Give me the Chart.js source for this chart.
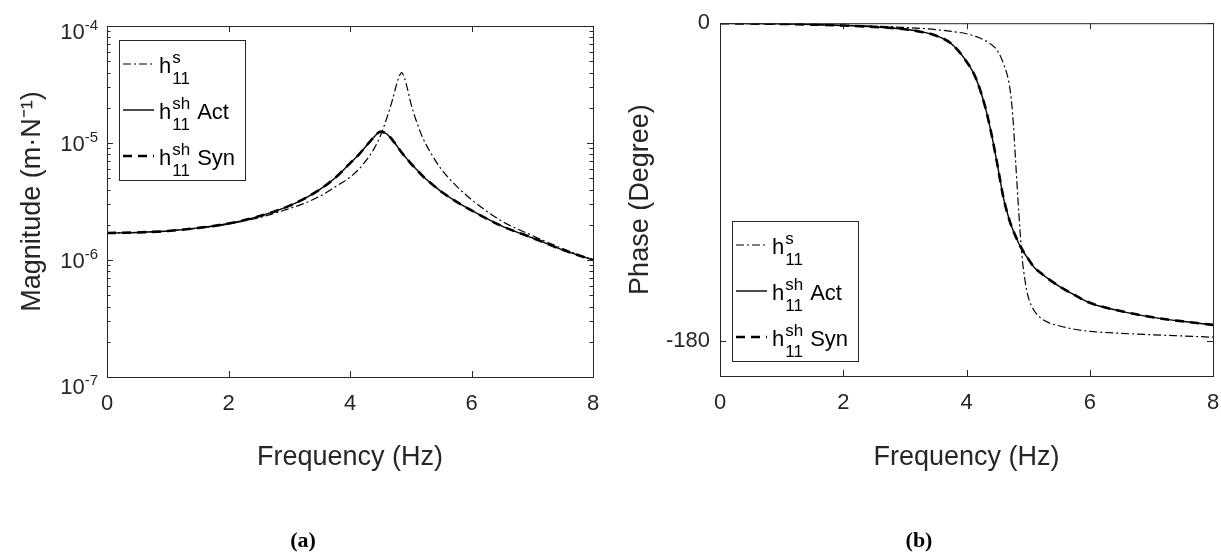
<!DOCTYPE html>
<html>
<head>
<meta charset="utf-8">
<script src="https://cdn.jsdelivr.net/npm/chart.js@4.4.1/dist/chart.umd.min.js"></script>
<style>
  body { margin: 0; background: #fff; width: 1221px; height: 555px; overflow: hidden; position: relative; }
  .box { position: absolute; top: 0; height: 555px; }
  #magBox { left: 0; width: 610px; }
  #phaseBox { left: 610px; width: 611px; }
  .cap { position: absolute; top: 527px; font: bold 22px "Liberation Serif", "Times New Roman", serif; color: #000; transform: translateX(-50%); }
</style>
</head>
<body>
<div class="box" id="magBox"><canvas id="magCanvas"></canvas></div>
<div class="box" id="phaseBox"><canvas id="phaseCanvas"></canvas></div>
<div class="cap" style="left:303px">(a)</div>
<div class="cap" style="left:919px">(b)</div>

<script>
// data
const freq = [0, 0.5, 1, 1.5, 2, 2.5, 3, 3.25, 3.5, 3.75, 4, 4.15, 4.3, 4.4, 4.5, 4.6, 4.7,
    4.75, 4.8, 4.85, 4.9, 4.95, 5.0, 5.1, 5.2, 5.35, 5.5, 5.75, 6, 6.5, 7, 7.5, 8];

const magS = [1.70e-6, 1.72e-6, 1.77e-6, 1.87e-6, 2.03e-6, 2.30e-6, 2.75e-6, 3.05e-6, 3.5e-6,
    4.2e-6, 5.1e-6, 6.0e-6, 7.5e-6, 9.0e-6, 1.15e-5, 1.6e-5, 2.35e-5, 2.95e-5, 3.6e-5, 4.0e-5,
    3.55e-5, 2.85e-5, 2.2e-5, 1.5e-5, 1.1e-5, 7.9e-6, 6.0e-6, 4.3e-6, 3.28e-6, 2.15e-6,
    1.62e-6, 1.25e-6, 1.0e-6];
const magAct = [1.70e-6, 1.72e-6, 1.77e-6, 1.88e-6, 2.05e-6, 2.36e-6, 2.9e-6, 3.35e-6, 4.0e-6,
    5.0e-6, 6.7e-6, 8.0e-6, 9.9e-6, 1.13e-5, 1.25e-5, 1.2e-5, 1.06e-5, 9.8e-6, 9.0e-6, 8.3e-6,
    7.7e-6, 7.2e-6, 6.7e-6, 5.9e-6, 5.2e-6, 4.45e-6, 3.85e-6, 3.15e-6, 2.65e-6, 1.95e-6,
    1.55e-6, 1.22e-6, 1.0e-6];
const magSyn = [1.70e-6, 1.72e-6, 1.77e-6, 1.88e-6, 2.05e-6, 2.36e-6, 2.9e-6, 3.35e-6, 4.0e-6,
    5.0e-6, 6.7e-6, 8.0e-6, 9.9e-6, 1.13e-5, 1.25e-5, 1.2e-5, 1.06e-5, 9.8e-6, 9.0e-6, 8.3e-6,
    7.7e-6, 7.2e-6, 6.7e-6, 5.9e-6, 5.2e-6, 4.45e-6, 3.85e-6, 3.15e-6, 2.65e-6, 1.95e-6,
    1.55e-6, 1.22e-6, 1.0e-6];

const phaseS = [0, -0.3, -0.5, -0.8, -1.2, -1.7, -2.4, -2.9, -3.6, -4.6, -6.0, -7.5, -9.8, -12,
    -15.5, -23, -36, -52, -80, -108, -132, -146, -155, -163, -167, -170, -171.5, -173.5,
    -174.7, -175.8, -176.6, -177.3, -178];
const phaseAct = [0, -0.2, -0.4, -0.8, -1.3, -2.1, -3.4, -4.8, -7.0, -11.5, -21.7, -31, -47, -62,
    -80, -99, -112, -117, -121, -125, -128, -131, -133.5, -138.5, -141.5, -145.5, -149, -154,
    -158.5, -163.2, -166.6, -169, -171];
const phaseSyn = [0, -0.2, -0.4, -0.8, -1.3, -2.1, -3.4, -4.8, -7.0, -11.5, -21.7, -31, -47, -62,
    -80, -99, -112, -117, -121, -125, -128, -131, -133.5, -138.5, -141.5, -145.5, -149, -154,
    -158.5, -163.2, -166.6, -169, -171];

const freqTicks = [0, 2, 4, 6, 8];
const magExponents = [-7, -6, -5, -4];
const phaseTicks = [-180, 0];

const legendSup = ['s', 'sh', 'sh'];
const legendSub = ['11', '11', '11'];
const legendSuffix = ['', 'Act', 'Syn'];

const axisColor = '#262626';
const fontFamily = '"Liberation Sans", Arial, Helvetica, sans-serif';

function pts(ys) {
    return freq.map((f, i) => ({x: f, y: ys[i]}));
}

function makeDatasets(s, act, syn) {
    return [
        {data: pts(syn), borderColor: '#000', borderWidth: 2.6, borderDash: [9, 6], order: 0},
        {data: pts(act), borderColor: '#000', borderWidth: 1.4, borderDash: [], order: 1},
        {data: pts(s), borderColor: '#000', borderWidth: 1.2, borderDash: [8, 3, 2, 3], order: 2}
    ];
}

// matlab-ish box, inward ticks, legend with sub/superscripts
const matlabAxes = {
    id: 'matlabAxes',
    afterDraw(chart, args, opts) {
        const {ctx, chartArea: a, scales: {x, y}} = chart;
        ctx.save();
        ctx.strokeStyle = axisColor;
        ctx.lineWidth = 1;
        ctx.setLineDash([]);
        ctx.strokeRect(a.left + 0.5, a.top + 0.5, a.right - a.left, a.bottom - a.top);

        ctx.beginPath();
        freqTicks.forEach(v => {
            const px = Math.round(x.getPixelForValue(v)) + 0.5;
            ctx.moveTo(px, a.bottom); ctx.lineTo(px, a.bottom - 6);
            ctx.moveTo(px, a.top); ctx.lineTo(px, a.top + 6);
        });
        opts.yMajor.forEach(v => {
            const py = Math.round(y.getPixelForValue(v)) + 0.5;
            ctx.moveTo(a.left, py); ctx.lineTo(a.left + 6, py);
            ctx.moveTo(a.right, py); ctx.lineTo(a.right - 6, py);
        });
        (opts.yMinor || []).forEach(v => {
            const py = Math.round(y.getPixelForValue(v)) + 0.5;
            ctx.moveTo(a.left, py); ctx.lineTo(a.left + 3.5, py);
            ctx.moveTo(a.right, py); ctx.lineTo(a.right - 3.5, py);
        });
        ctx.stroke();

        // 10^n labels for the log axis (end labels sit a bit lower in the original)
        if (opts.logLabels) {
            ctx.fillStyle = axisColor;
            ctx.textBaseline = 'alphabetic';
            const drop = {'-7': 9, '-4': 5};
            magExponents.forEach(e => {
                const py = y.getPixelForValue(Math.pow(10, e)) + (drop[e] || 0);
                ctx.font = '15px ' + fontFamily;
                const sup = String(e);
                const supW = ctx.measureText(sup).width;
                ctx.font = '22px ' + fontFamily;
                const baseW = ctx.measureText('10').width;
                const right = a.left - 9;
                ctx.fillText('10', right - supW - baseW, py + 8);
                ctx.font = '15px ' + fontFamily;
                ctx.fillText(sup, right - supW, py - 1);
            });
        }

        // legend
        const lg = opts.legend;
        const bx = a.left + lg.dx;
        const by = lg.anchor === 'top' ? a.top + lg.dy : a.bottom - lg.dy - lg.h;
        ctx.fillStyle = '#fff';
        ctx.fillRect(bx, by, lg.w, lg.h);
        ctx.strokeStyle = axisColor;
        ctx.strokeRect(Math.round(bx) + 0.5, Math.round(by) + 0.5, lg.w, lg.h);
        const order = [2, 1, 0];
        order.forEach((di, row) => {
            const ds = chart.data.datasets[di];
            const ry = by + 24 + row * 46;
            ctx.beginPath();
            ctx.strokeStyle = '#000';
            ctx.lineWidth = ds.borderWidth;
            ctx.setLineDash(ds.borderDash);
            ctx.moveTo(bx + 4, ry);
            ctx.lineTo(bx + 35, ry);
            ctx.stroke();
            ctx.setLineDash([]);

            ctx.fillStyle = '#000';
            ctx.textBaseline = 'alphabetic';
            ctx.textAlign = 'left';
            const hx = bx + 40;
            ctx.font = '22px ' + fontFamily;
            ctx.fillText('h', hx, ry + 9);
            const sx = hx + ctx.measureText('h').width + 1;
            ctx.font = '17px ' + fontFamily;
            ctx.fillText(legendSup[row], sx, ry - 1);
            ctx.fillText(legendSub[row], sx, ry + 20);
            const w = Math.max(ctx.measureText(legendSup[row]).width, ctx.measureText(legendSub[row]).width);
            if (legendSuffix[row]) {
                ctx.font = '22px ' + fontFamily;
                ctx.fillText(legendSuffix[row], sx + w + 7, ry + 9);
            }
        });
        ctx.restore();
    }
};

function xScale(h) {
    return {
        type: 'linear',
        min: 0,
        max: 8,
        afterBuildTicks: s => { s.ticks = freqTicks.map(v => ({value: v})); },
        grid: {display: false, drawTicks: false},
        border: {display: false},
        // tall line height pushes the labels down without adding side padding
        ticks: {color: axisColor, font: {family: fontFamily, size: 22, lineHeight: 2.45}, padding: 0, maxRotation: 0},
        title: {display: true, text: 'Frequency (Hz)', color: axisColor,
            font: {family: fontFamily, size: 27}, padding: {top: 0, bottom: 81}},
        afterFit: s => { s.height = h; }
    };
}

let magChart = new Chart(document.getElementById('magCanvas'), {
    type: 'line',
    data: {datasets: makeDatasets(magS, magAct, magSyn)},
    options: {
        responsive: true,
        maintainAspectRatio: false,
        animation: false,
        events: [],
        layout: {padding: {top: 26, right: 17, left: 0, bottom: 0}},
        elements: {point: {radius: 0}, line: {cubicInterpolationMode: 'monotone', fill: false}},
        scales: {
            x: xScale(178),
            y: {
                type: 'logarithmic',
                min: 1e-7,
                max: 1e-4,
                grid: {display: false, drawTicks: false},
                border: {display: false},
                ticks: {display: false},
                title: {display: true, text: 'Magnitude (m·N⁻¹)', color: axisColor,
                    font: {family: fontFamily, size: 27}, padding: {top: 16, bottom: 0}},
                afterFit: s => { s.width = 107; }
            }
        },
        plugins: {
            legend: {display: false},
            tooltip: {enabled: false},
            matlabAxes: {
                yMajor: magExponents.map(e => Math.pow(10, e)),
                yMinor: [-7, -6, -5].flatMap(e => [2, 3, 4, 5, 6, 7, 8, 9].map(m => m * Math.pow(10, e))),
                logLabels: true,
                legend: {anchor: 'top', dx: 12, dy: 14, w: 126, h: 140}
            }
        }
    },
    plugins: [matlabAxes]
});

let phaseChart = new Chart(document.getElementById('phaseCanvas'), {
    type: 'line',
    data: {datasets: makeDatasets(phaseS, phaseAct, phaseSyn)},
    options: {
        responsive: true,
        maintainAspectRatio: false,
        animation: false,
        events: [],
        layout: {padding: {top: 20, right: 8, left: 0, bottom: 0}},
        elements: {point: {radius: 0}, line: {cubicInterpolationMode: 'monotone', fill: false}},
        scales: {
            x: xScale(179),
            y: {
                type: 'linear',
                min: -200,
                max: 0,
                afterBuildTicks: s => { s.ticks = phaseTicks.map(v => ({value: v})); },
                grid: {display: false, drawTicks: false},
                border: {display: false},
                ticks: {color: axisColor, font: {family: fontFamily, size: 22}, padding: 10},
                title: {display: true, text: 'Phase (Degree)', color: axisColor,
                    font: {family: fontFamily, size: 27}, padding: {top: 14, bottom: 0}},
                afterFit: s => { s.width = 110; }
            }
        },
        plugins: {
            legend: {display: false},
            tooltip: {enabled: false},
            matlabAxes: {
                yMajor: phaseTicks,
                legend: {anchor: 'bottom', dx: 12, dy: 15, w: 126, h: 140}
            }
        }
    },
    plugins: [matlabAxes]
});
</script>
</body>
</html>
